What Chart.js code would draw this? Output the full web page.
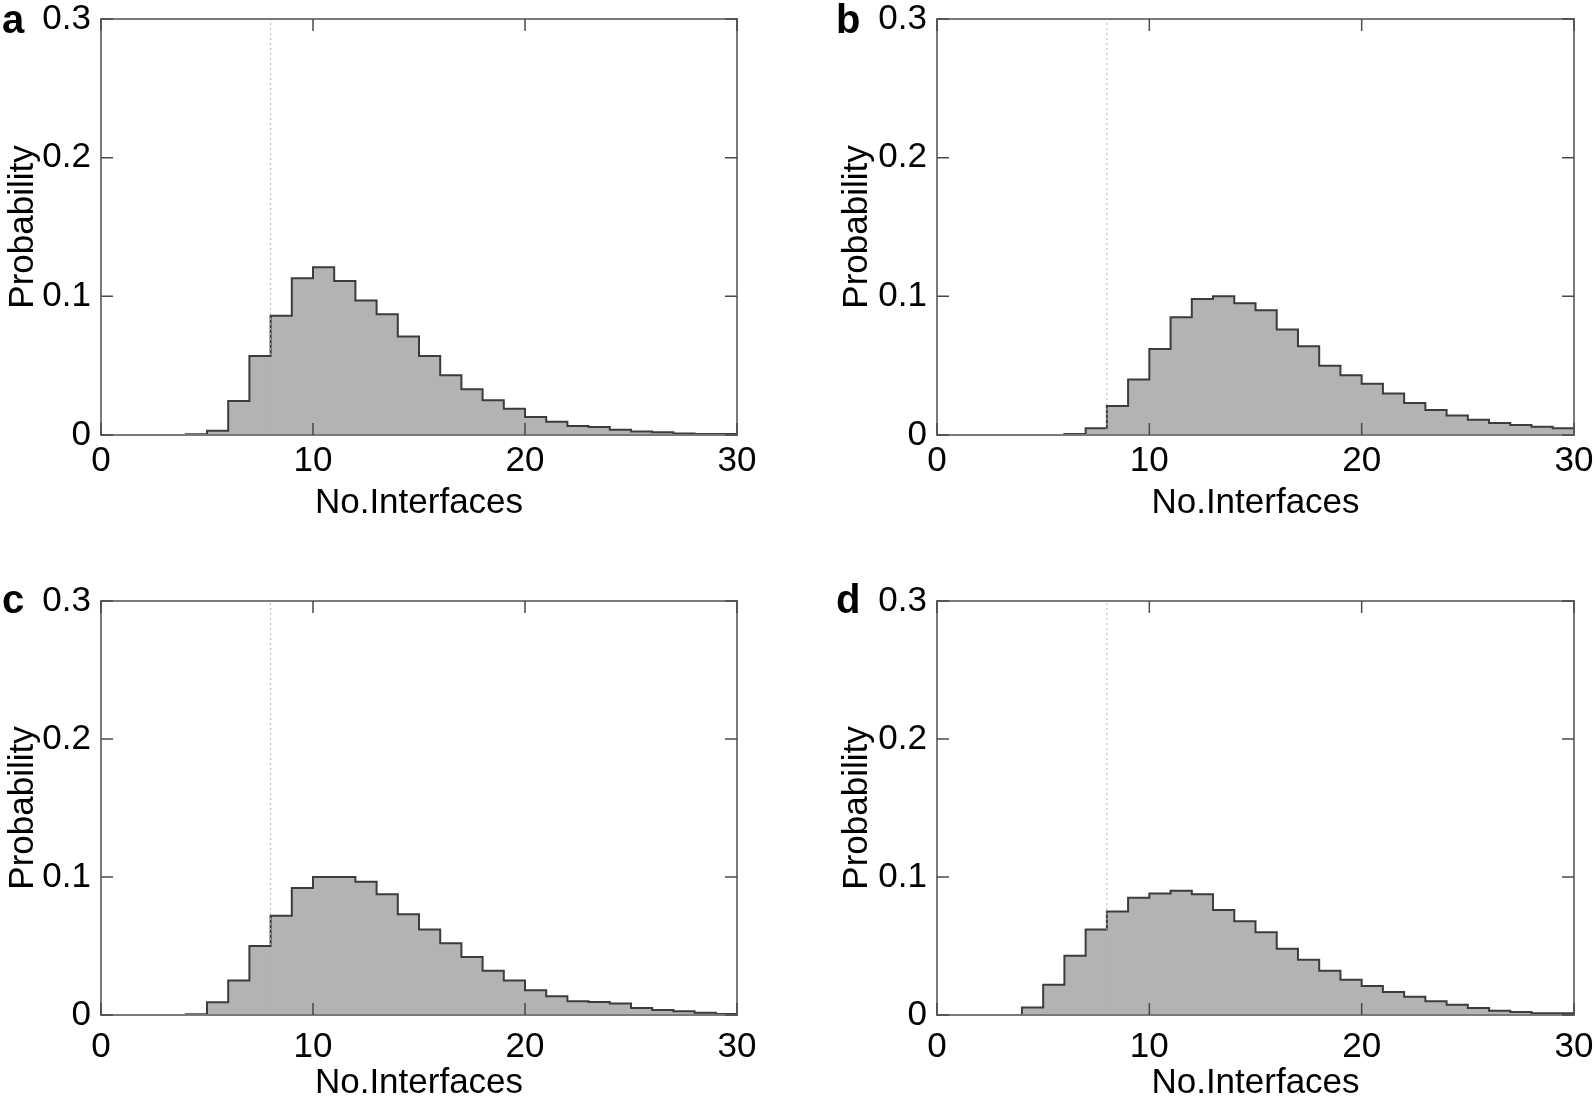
<!DOCTYPE html>
<html>
<head>
<meta charset="utf-8">
<script src="https://cdn.jsdelivr.net/npm/chart.js@4/dist/chart.umd.min.js"></script>
<style>
    html, body { margin: 0; padding: 0; background: #fff; }
    body { width: 1595px; height: 1097px; position: relative; overflow: hidden; }
    .panel { position: absolute; }
</style>
</head>
<body>
<div class="panel" style="left:0;top:0;width:800px;height:560px"><canvas id="chartA"></canvas></div>
<div class="panel" style="left:800px;top:0;width:795px;height:560px"><canvas id="chartB"></canvas></div>
<div class="panel" style="left:0;top:560px;width:800px;height:537px"><canvas id="chartC"></canvas></div>
<div class="panel" style="left:800px;top:560px;width:795px;height:537px"><canvas id="chartD"></canvas></div>
<script>
// bins of one interface each, 0..29, last edge at 30
const binStarts = [0, 1, 2, 3, 4, 5, 6, 7, 8, 9, 10, 11, 12, 13, 14, 15, 16, 17, 18, 19, 20, 21, 22, 23, 24, 25, 26, 27, 28, 29];
const lastEdge = 30;
const cutoffValue = 8;
const xTicks = [0, 10, 20, 30];
const yTicks = [0, 0.1, 0.2, 0.3];
const xTitle = 'No.Interfaces';
const yTitle = 'Probability';

const probA = [0, 0, 0, 0, 0.0005, 0.003, 0.0245, 0.057, 0.086, 0.113, 0.121, 0.111, 0.097, 0.087, 0.071,
    0.057, 0.043, 0.033, 0.025, 0.019, 0.013, 0.0096, 0.0065, 0.0058, 0.0038, 0.0026, 0.0019, 0.001, 0.0007, 0.0007];
const probB = [0, 0, 0, 0, 0, 0, 0.0007, 0.0048, 0.021, 0.040, 0.062, 0.085, 0.098, 0.100, 0.095,
    0.090, 0.076, 0.064, 0.050, 0.043, 0.037, 0.030, 0.023, 0.018, 0.014, 0.011, 0.0087, 0.0072, 0.006, 0.0048];
const probC = [0, 0, 0, 0, 0.0005, 0.0092, 0.025, 0.050, 0.072, 0.092, 0.100, 0.100, 0.0966, 0.0875, 0.073,
    0.062, 0.052, 0.042, 0.032, 0.025, 0.018, 0.0135, 0.010, 0.0094, 0.0084, 0.0051, 0.0036, 0.0027, 0.0017, 0.0007];
const probD = [0, 0, 0, 0, 0.0055, 0.022, 0.043, 0.062, 0.075, 0.085, 0.088, 0.090, 0.0875, 0.076, 0.068,
    0.060, 0.048, 0.040, 0.032, 0.0255, 0.021, 0.0166, 0.0133, 0.010, 0.0075, 0.0051, 0.0031, 0.0022, 0.0012, 0.0012];

const FONT = '"Liberation Sans", Arial, Helvetica, sans-serif';
const labelFont = { family: FONT, size: 35, lineHeight: 1 };

//////////////////////////////////////////////
// Box, inward ticks and panel letter
//////////////////////////////////////////////
const framePlugin = {
    id: 'frame',
    afterDatasetsDraw(chart, args, opts) {
        const { ctx, chartArea: a } = chart;
        const xs = chart.scales.x;
        const ys = chart.scales.y;
        ctx.save();
        ctx.strokeStyle = '#7a7a7a';
        ctx.lineWidth = 2;
        ctx.strokeRect(a.left, a.top, a.right - a.left, a.bottom - a.top);

        ctx.strokeStyle = '#4a4a4a';
        ctx.lineWidth = 1.5;
        ctx.beginPath();
        xs.ticks.forEach(t => {
            const px = xs.getPixelForValue(t.value);
            ctx.moveTo(px, a.bottom); ctx.lineTo(px, a.bottom - 12);
            ctx.moveTo(px, a.top); ctx.lineTo(px, a.top + 12);
        });
        ys.ticks.forEach(t => {
            const py = ys.getPixelForValue(t.value);
            ctx.moveTo(a.left, py); ctx.lineTo(a.left + 12, py);
            ctx.moveTo(a.right, py); ctx.lineTo(a.right - 12, py);
        });
        ctx.stroke();

        ctx.fillStyle = '#000';
        ctx.font = 'bold 40px ' + FONT;
        ctx.textBaseline = 'alphabetic';
        ctx.textAlign = 'left';
        ctx.fillText(opts.letter, opts.letterX, opts.letterY);
        ctx.restore();
    }
};

function histPoints(values) {
    const pts = binStarts.map((x, i) => ({ x: x, y: values[i] }));
    pts.push({ x: lastEdge, y: values[values.length - 1] });
    return pts;
}

function makePanel(id, values, cfg) {
    const ctx = document.getElementById(id).getContext('2d');
    return new Chart(ctx, {
        type: 'line',
        data: {
            datasets: [
                {
                    label: 'cutoff',
                    data: [{ x: cutoffValue, y: yTicks[0] }, { x: cutoffValue, y: yTicks[yTicks.length - 1] }],
                    borderColor: '#b0b0b0',
                    borderWidth: 1,
                    borderDash: [2, 3],
                    pointRadius: 0,
                    fill: false,
                    order: 0
                },
                {
                    label: 'hist',
                    data: histPoints(values),
                    stepped: true,
                    borderColor: '#3c3c3c',
                    borderWidth: 2,
                    backgroundColor: '#b3b3b3',
                    fill: 'origin',
                    pointRadius: 0,
                    segment: {
                        borderColor: c => (c.p0.parsed.y === 0 && c.p1.parsed.y === 0) ? 'rgba(0,0,0,0)' : undefined
                    },
                    order: 1
                }
            ]
        },
        options: {
            responsive: true,
            maintainAspectRatio: false,
            animation: false,
            layout: { padding: { left: 0, top: cfg.top, right: cfg.right, bottom: 0 } },
            scales: {
                x: {
                    type: 'linear',
                    min: 0,
                    max: lastEdge,
                    afterBuildTicks: s => { s.ticks = xTicks.map(v => ({ value: v })); },
                    ticks: { font: labelFont, color: '#000', padding: 0, maxRotation: 0, autoSkip: false },
                    grid: { display: false, drawTicks: true, tickLength: cfg.xTickGap },
                    border: { display: false },
                    title: { display: true, text: xTitle, font: labelFont, color: '#000', padding: { top: 0, bottom: cfg.xTitlePad } },
                    afterFit: s => { s.height = cfg.xHeight; }
                },
                y: {
                    type: 'linear',
                    min: 0,
                    max: yTicks[yTicks.length - 1],
                    afterBuildTicks: s => { s.ticks = yTicks.map(v => ({ value: v })); },
                    ticks: {
                        font: labelFont, color: '#000', padding: 0, autoSkip: false,
                        callback: v => v === 0 ? '0' : v.toFixed(1)
                    },
                    grid: { display: false, drawTicks: true, tickLength: 10 },
                    border: { display: false },
                    title: { display: true, text: yTitle, font: labelFont, color: '#000', padding: { top: cfg.yTitlePad, bottom: 0 } },
                    afterFit: s => { s.width = cfg.yWidth; }
                }
            },
            plugins: {
                legend: { display: false },
                tooltip: { enabled: false },
                frame: { letter: cfg.letter, letterX: cfg.letterX, letterY: cfg.letterY }
            }
        },
        plugins: [framePlugin]
    });
}

makePanel('chartA', probA, { letter: 'a', letterX: 2, letterY: 33, top: 19, right: 63, yWidth: 101, xHeight: 125, xTickGap: 9, xTitlePad: 39, yTitlePad: 6 });
makePanel('chartB', probB, { letter: 'b', letterX: 36, letterY: 33, top: 19, right: 21, yWidth: 137, xHeight: 125, xTickGap: 9, xTitlePad: 39, yTitlePad: 40 });
makePanel('chartC', probC, { letter: 'c', letterX: 2, letterY: 53, top: 41, right: 63, yWidth: 101, xHeight: 82, xTickGap: 15, xTitlePad: -4, yTitlePad: 6 });
makePanel('chartD', probD, { letter: 'd', letterX: 36, letterY: 53, top: 41, right: 21, yWidth: 137, xHeight: 82, xTickGap: 15, xTitlePad: -4, yTitlePad: 40 });
</script>
</body>
</html>
